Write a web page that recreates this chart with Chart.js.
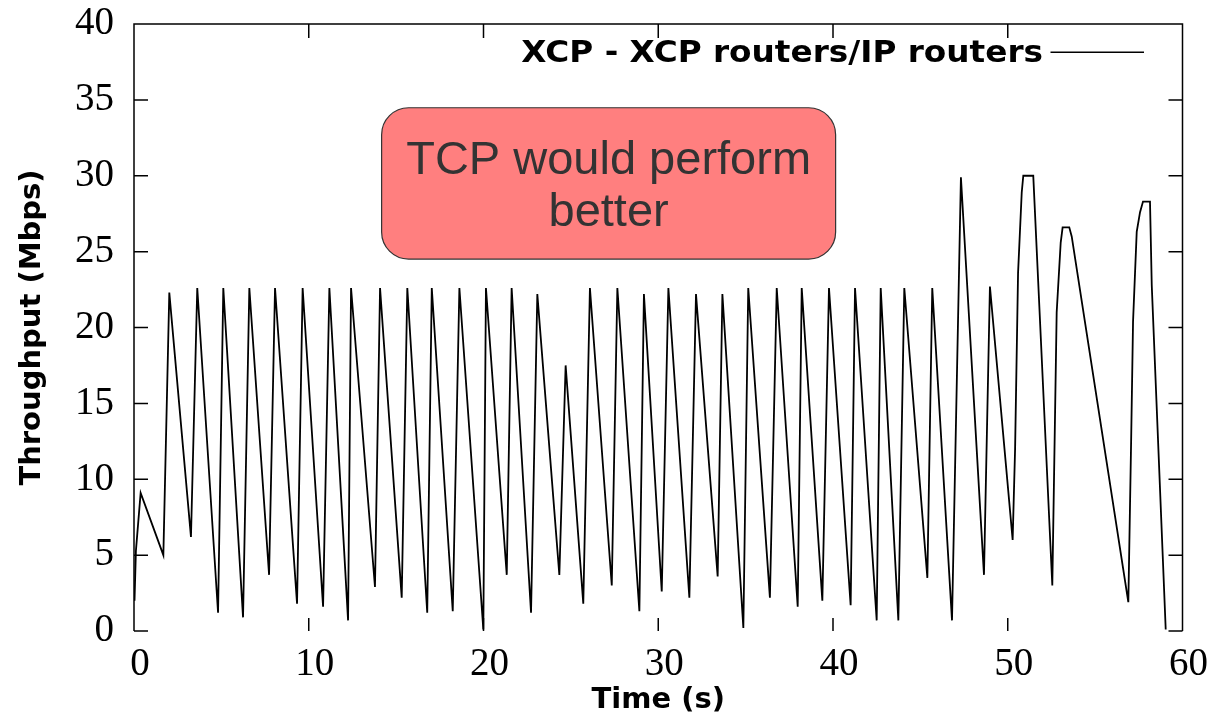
<!DOCTYPE html>
<html>
<head>
<meta charset="utf-8">
<script src="https://cdn.jsdelivr.net/npm/chart.js@4"></script>
<style>
  html, body { margin: 0; padding: 0; background: #fff; }
  canvas { display: block; }
</style>
</head>
<body>
<canvas id="xcp-chart" width="1214" height="716"></canvas>
<script>
// vertices of the throughput trace (time in s, throughput in Mbps)
const timeS = [
  0.03, 0.11, 0.38, 1.68, 2.02, 3.26, 3.62, 4.81, 5.11, 6.24,
  6.60, 7.73, 8.07, 9.33, 9.65, 10.82, 11.18, 12.25, 12.42, 13.79,
  14.08, 15.32, 15.64, 16.78, 17.04, 18.24, 18.62, 19.99, 20.14, 21.33,
  21.61, 22.72, 23.08, 24.34, 24.70, 25.71, 26.09, 27.34, 27.66, 28.92,
  29.18, 30.20, 30.58, 31.78, 32.16, 33.40, 33.67, 34.87, 35.15, 36.39,
  36.78, 37.98, 38.21, 39.39, 39.77, 41.01, 41.26, 42.50, 42.73, 43.74,
  44.08, 45.40, 45.68, 46.81, 47.32, 48.64, 48.98, 50.28, 50.42, 50.59,
  50.80, 50.89, 51.46, 52.55, 52.80, 53.03, 53.14, 53.52, 53.66, 56.90,
  57.06, 57.17, 57.38, 57.57, 57.74, 58.14, 58.24, 59.04
];
const throughputMbps = [
  2.0, 5.3, 9.1, 5.0, 22.3, 6.2, 22.6, 1.2, 22.6, 0.9,
  22.6, 3.7, 22.6, 1.8, 22.6, 1.6, 22.6, 0.7, 22.6, 2.9,
  22.6, 2.2, 22.6, 1.2, 22.6, 1.3, 22.6, 0.1, 22.6, 3.7,
  22.6, 1.2, 22.2, 3.7, 17.5, 1.8, 22.6, 3.0, 22.6, 1.3,
  22.2, 2.6, 22.6, 2.2, 22.2, 3.6, 22.2, 0.2, 22.6, 2.2,
  22.6, 1.6, 22.6, 2.0, 22.6, 1.7, 22.6, 0.7, 22.6, 0.7,
  22.6, 3.5, 22.6, 0.7, 29.9, 3.7, 22.7, 6.0, 12.0, 23.6,
  28.9, 30.0, 30.0, 3.0, 21.0, 25.6, 26.6, 26.6, 26.0, 1.9,
  12.5, 20.4, 26.3, 27.6, 28.3, 28.3, 22.8, 0.1
];

const seriesLabel = 'XCP - XCP routers/IP routers';
const noteLines = ['TCP would perform', 'better'];
const xTickStep = 10;
const yTickStep = 5;

// note box corners, in axis units
const noteBox = { xMin: 14.17, xMax: 40.15, yMin: 24.51, yMax: 34.48 };

// gnuplot style frame: inward ticks, key inside top right, plus the pasted note
const gnuplotFrame = {
  id: 'gnuplotFrame',
  afterDatasetsDraw(chart) {
    const { ctx, chartArea: a, scales: { x, y } } = chart;
    ctx.save();
    ctx.strokeStyle = '#000';
    ctx.lineWidth = 1.5;
    ctx.beginPath();
    ctx.moveTo(a.left, a.bottom);
    ctx.lineTo(a.left, a.top);
    ctx.lineTo(a.right, a.top);
    ctx.lineTo(a.right, a.bottom);
    y.ticks.forEach(t => {
      const py = y.getPixelForValue(t.value);
      ctx.moveTo(a.left, py); ctx.lineTo(a.left + 14, py);
      ctx.moveTo(a.right, py); ctx.lineTo(a.right - 14, py);
    });
    x.ticks.forEach(t => {
      const px = x.getPixelForValue(t.value);
      ctx.moveTo(px, a.top); ctx.lineTo(px, a.top + 14);
      ctx.moveTo(px, a.bottom); ctx.lineTo(px, a.bottom - 13);
    });
    ctx.stroke();

    // key
    ctx.fillStyle = '#000';
    ctx.font = 'bold 30px "DejaVu Sans"';
    ctx.textAlign = 'right';
    ctx.textBaseline = 'alphabetic';
    ctx.save();
    ctx.translate(a.right - 139.5, a.top + 37.7);
    ctx.scale(1.09, 1);
    ctx.fillText(seriesLabel, 0, 0);
    ctx.restore();
    ctx.beginPath();
    ctx.lineWidth = 1.6;
    ctx.moveTo(a.right - 132, a.top + 28.3);
    ctx.lineTo(a.right - 38.5, a.top + 28.3);
    ctx.stroke();

    // note box
    const bx0 = x.getPixelForValue(noteBox.xMin);
    const bx1 = x.getPixelForValue(noteBox.xMax);
    const by0 = y.getPixelForValue(noteBox.yMax);
    const by1 = y.getPixelForValue(noteBox.yMin);
    ctx.beginPath();
    ctx.roundRect(bx0, by0, bx1 - bx0, by1 - by0, 27);
    ctx.fillStyle = '#ff7f7f';
    ctx.fill();
    ctx.lineWidth = 1.2;
    ctx.strokeStyle = '#333';
    ctx.stroke();
    ctx.fillStyle = '#333';
    ctx.font = '47px "Liberation Sans"';
    ctx.textAlign = 'center';
    const cx = (bx0 + bx1) / 2;
    ctx.fillText(noteLines[0], cx, by0 + 66);
    ctx.fillText(noteLines[1], cx, by0 + 118);
    ctx.restore();
  }
};

const ctx = document.getElementById('xcp-chart');

new Chart(ctx, {
  type: 'line',
  data: {
    datasets: [
      {
        label: seriesLabel,
        data: timeS.map((t, i) => ({ x: t, y: throughputMbps[i] })),
        borderColor: '#000',
        borderWidth: 1.8,
        pointRadius: 0,
        tension: 0,
        fill: false,
      },
    ],
  },
  options: {
    responsive: false,
    animation: false,
    layout: { padding: { top: 24, right: 31.5, bottom: 0, left: 0 } },
    plugins: {
      legend: { display: false },
      tooltip: { enabled: false },
    },
    scales: {
      x: {
        type: 'linear',
        min: 0,
        max: 60,
        grid: { display: false, drawTicks: false },
        border: { display: false },
        ticks: {
          stepSize: xTickStep,
          padding: 10,
          labelOffset: 6,
          maxRotation: 0,
          color: '#000',
          font: { family: '"Liberation Serif", serif', size: 39 },
        },
        title: {
          display: true,
          text: 'Time (s)',
          color: '#000',
          font: { family: '"DejaVu Sans", sans-serif', weight: 'bold', size: 29, lineHeight: 1.1 },
          padding: { top: 0, bottom: 0 },
        },
        afterFit(scale) {
          scale.height = 85;
          scale.paddingLeft = 0;
          scale.paddingRight = 0;
        },
      },
      y: {
        min: 0,
        max: 40,
        grid: { display: false, drawTicks: false },
        border: { display: false },
        ticks: {
          stepSize: yTickStep,
          padding: 20,
          color: '#000',
          font: { family: '"Liberation Serif", serif', size: 39 },
        },
        title: {
          display: true,
          text: 'Throughput (Mbps)',
          color: '#000',
          font: { family: '"DejaVu Sans", sans-serif', weight: 'bold', size: 29, lineHeight: 1.1 },
          padding: { top: 17, bottom: 0 },
        },
        afterFit(scale) {
          scale.width = 134;
          scale.paddingTop = 0;
          scale.paddingBottom = 0;
        },
      },
    },
  },
  plugins: [gnuplotFrame],
});
</script>
</body>
</html>
